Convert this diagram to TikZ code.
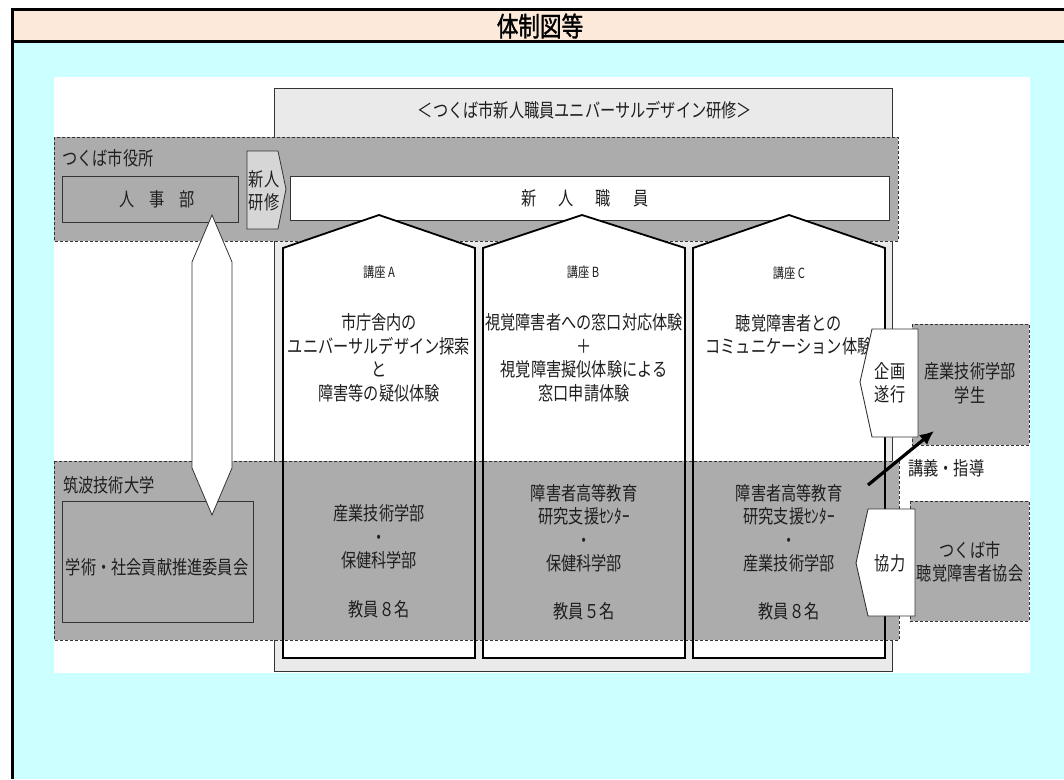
\documentclass[tikz,border=0pt]{standalone}
\usepackage{fontspec}
\usetikzlibrary{arrows.meta}
\newfontfamily\jp[FakeStretch=0.8]{Noto Sans CJK JP}
\newfontfamily\jpt[FakeStretch=0.8,FakeBold=1.3]{Noto Sans CJK JP}
\definecolor{peach}{HTML}{FDE9D9}
\definecolor{cyanbg}{HTML}{CCFFFF}
\definecolor{bandgray}{HTML}{ACACAC}
\definecolor{lgray}{HTML}{EAEAEA}
\definecolor{arrowg}{HTML}{D6D6D6}
\definecolor{dline}{HTML}{333333}
\definecolor{txt}{HTML}{1E1E1E}
\begin{document}
\begin{tikzpicture}[x=1pt,y=-1pt,
  jpf/.style={font=\jp\fontsize{19}{23.5}\selectfont, text=txt, align=center, inner sep=0pt},
  smalltxt/.style={font=\jp\fontsize{14}{16}\selectfont, text=txt, inner sep=0pt},
  titletxt/.style={font=\jpt\fontsize{27}{30}\selectfont, text=black, inner sep=0pt},
  bandbox/.style={fill=bandgray, draw=dline, line width=1pt, dash pattern=on 3pt off 2pt},
  solidbox/.style={fill=bandgray, draw=dline, line width=0.9pt},
  lgbox/.style={fill=lgray, draw=dline, line width=1pt},
  house/.style={draw=black, line width=1.8pt, line join=miter},
  tag/.style={fill=white, draw=dline, line width=0.9pt, line join=miter},
  thickarrow/.style={draw=black, line width=3.2pt, -{Latex[length=14pt,width=13pt]}}
]
\useasboundingbox (0,0) rectangle (1064,779);
% frame
\fill[white] (0,0) rectangle (1064,779);
\fill[peach] (12,9) rectangle (1064,42);
\fill[cyanbg] (12,42) rectangle (1064,779);
\draw[black, line width=3pt] (12.5,779) -- (12.5,9.5) -- (1064,9.5);
\draw[black, line width=3pt] (12.5,41.5) -- (1064,41.5);
\node[titletxt] (title) at (540,26) {体制図等};
% white area
\fill[white] (54,77) rectangle (1030,673);
% course frame
\draw[lgbox] (274,88) rectangle (892,671);
\node[jpf] (course) at (585,110) {＜つくば市新人職員ユニバーサルデザイン研修＞};
% city band
\draw[bandbox] (54,137) rectangle (898,241);
\node[jpf, anchor=west] (citylabel) at (62,158) {つくば市役所};
\draw[solidbox] (62,176) rectangle (238,222);
\node[jpf] (jinji) at (157,199) {人　事　部};
\draw[fill=arrowg, draw=dline, line width=0.8pt, line join=miter] (247,151) -- (278,151) -- (286,189) -- (278,229) -- (247,229) -- cycle;
\node[jpf] (kenshu) at (264,191) {新人\\研修};
\draw[fill=white, draw=dline, line width=0.9pt] (290,176) rectangle (889,220);
\node[jpf] (shinjin) at (585,198) {新\hspace{22pt}人\hspace{22pt}職\hspace{22pt}員};
% houses fill
\fill[white] (283,248) -- (379,215) -- (475,248) -- (475,658) -- (283,658) -- cycle;
\fill[white] (483,248) -- (582,215) -- (685,248) -- (685,658) -- (483,658) -- cycle;
\fill[white] (693,248) -- (789,215) -- (885,248) -- (885,658) -- (693,658) -- cycle;
% university band
\draw[bandbox] (54,461) rectangle (899,640);
\node[jpf, anchor=west] (univlabel) at (63,485) {筑波技術大学};
\draw[solidbox] (62,501) rectangle (253,622);
\node[jpf] (gakujutsu) at (157,567) {学術・社会貢献推進委員会};
% houses outline
\draw[house] (283,248) -- (379,215) -- (475,248) -- (475,658) -- (283,658) -- cycle;
\draw[house] (483,248) -- (582,215) -- (685,248) -- (685,658) -- (483,658) -- cycle;
\draw[house] (693,248) -- (789,215) -- (885,248) -- (885,658) -- (693,658) -- cycle;
% lecture texts
\node[smalltxt] (kozaA) at (379,272) {講座 A};
\node[smalltxt] (kozaB) at (583,272) {講座 B};
\node[smalltxt] (kozaC) at (789,273) {講座 C};
\node[jpf] (textA) at (379,358) {市庁舎内の\\ユニバーサルデザイン探索\\と\\障害等の疑似体験};
\node[jpf] (textB) at (584,358) {視覚障害者への窓口対応体験\\＋\\視覚障害擬似体験による\\窓口申請体験};
\node[jpf] (textC) at (789,335) {聴覚障害者との\\コミュニケーション体験};
\node[jpf] (staffA) at (379,537) {産業技術学部\\・\\保健科学部};
\node[jpf] (numA) at (379,609) {教員８名};
\node[jpf] (staffB) at (584,528) {障害者高等教育\\研究支援ｾﾝﾀｰ\\・\\保健科学部};
\node[jpf] (numB) at (584,611) {教員５名};
\node[jpf] (staffC) at (789,528) {障害者高等教育\\研究支援ｾﾝﾀｰ\\・\\産業技術学部};
\node[jpf] (numC) at (789,611) {教員８名};
% double arrow
\draw[fill=white, draw=dline, line width=0.8pt, line join=miter] (212,215) -- (232,262) -- (232,468) -- (212,515) -- (192,468) -- (192,262) -- cycle;
% right side
\draw[bandbox] (912,324) rectangle (1029,445);
\node[jpf] (student) at (970,383) {産業技術学部\\学生};
\draw[bandbox] (910,501) rectangle (1029,621);
\node[jpf] (assoc) at (970,562) {つくば市\\聴覚障害者協会};
\node[jpf, anchor=west] (lecture) at (908,468) {講義・指導};
\draw[tag] (918,329) -- (872,329) -- (860,382) -- (872,437) -- (918,437) -- cycle;
\node[jpf] (kikaku) at (890,383) {企画\\遂行};
\draw[tag] (915,509) -- (868,509) -- (856,563) -- (868,616) -- (915,616) -- cycle;
\node[jpf] (kyoryoku) at (890,563) {協力};
\coordinate (arrS) at (868,485);
\coordinate (arrE) at (934,431);
\draw[thickarrow] (arrS) -- (arrE);
\end{tikzpicture}
\end{document}
